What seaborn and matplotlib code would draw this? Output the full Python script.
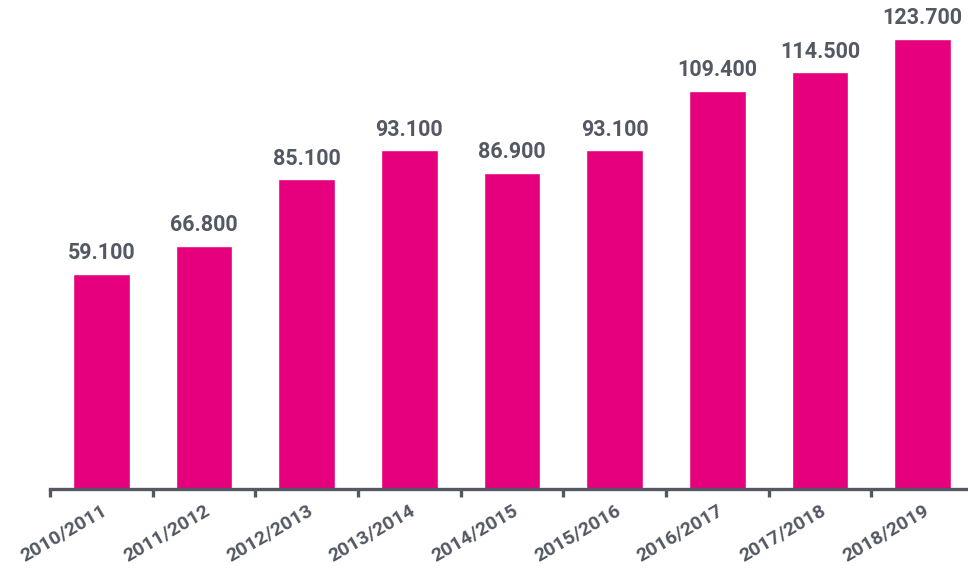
import matplotlib
matplotlib.use('Agg')
import matplotlib.pyplot as plt
import seaborn as sns
import pandas as pd

# Values
seasons = ['2010/2011', '2011/2012', '2012/2013', '2013/2014', '2014/2015',
           '2015/2016', '2016/2017', '2017/2018', '2018/2019']
values = [59100, 66800, 85100, 93100, 86900, 93100, 109400, 114500, 123700]

df = pd.DataFrame({'Season': seasons, 'Value': values})

bar_color = '#E6007E'
text_color = '#535862'

sns.set_style('white')
plt.rcParams['font.family'] = ['Roboto', 'DejaVu Sans']

fig = plt.figure(figsize=(9.68, 5.71), dpi=100)
ax = fig.add_axes([50 / 968, 82 / 571, 924 / 968, 473 / 571])

sns.barplot(data=df, x='Season', y='Value', color=bar_color, width=0.555,
            saturation=1, ax=ax)

ax.set_xlim(-0.5, len(seasons) - 0.5)
ax.set_ylim(0, 130000)

# value labels with German thousands separator
labels = [f'{v:,}'.replace(',', '.') for v in values]
ax.bar_label(ax.containers[0], labels=labels, padding=7, fontsize=15.5,
             fontweight='bold', color=text_color)

for side in ['top', 'right', 'left']:
    ax.spines[side].set_visible(False)
ax.spines['bottom'].set_color(text_color)
ax.spines['bottom'].set_linewidth(2.4)

ax.set_yticks([])
ax.set_xlabel('')
ax.set_ylabel('')

# ticks between categories, labels at category centres
ax.set_xticks([i - 0.5 for i in range(len(seasons) + 1)], minor=True)
ax.tick_params(axis='x', which='minor', bottom=True, length=6, width=2.4,
               color=text_color, direction='out')
ax.tick_params(axis='x', which='major', length=0, pad=9)
ax.set_xticks(range(len(seasons)))
ax.set_xticklabels(seasons, rotation=30, ha='right', rotation_mode='anchor',
                   fontsize=14, fontweight='bold', color=text_color)

fig.savefig('out.png', dpi=100)
